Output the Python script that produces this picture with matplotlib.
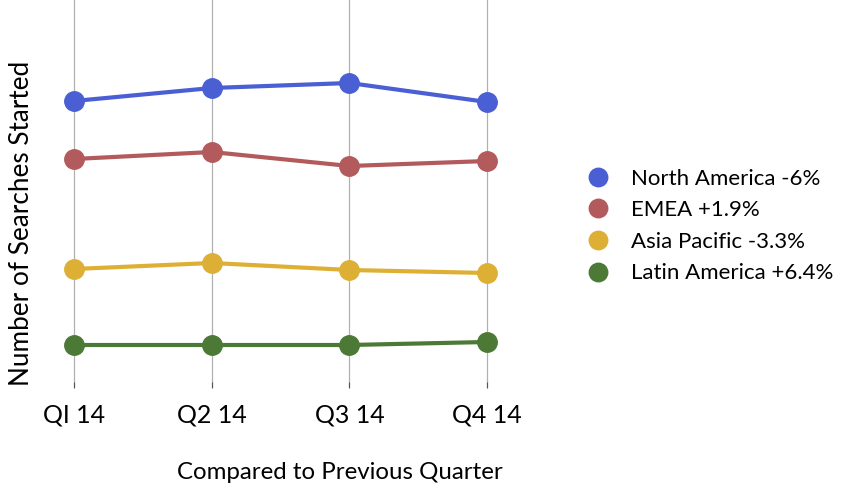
import matplotlib.pyplot as plt

# quarters and relative search counts (no y scale shown in the original)
quarters = ["QI 14", "Q2 14", "Q3 14", "Q4 14"]
north_america = [299, 312, 317, 298]
emea = [241, 248, 234, 239]
asia_pacific = [131, 137, 130, 127]
latin_america = [55, 55, 55, 58]

labels = ["North America -6%", "EMEA +1.9%", "Asia Pacific -3.3%", "Latin America +6.4%"]
colors = ["#4a5fd3", "#b35a5c", "#ddb035", "#4c7a36"]

plt.rcParams["font.family"] = ["Lato", "DejaVu Sans"]

fig = plt.figure(figsize=(8.53, 4.91), dpi=100)
ax = fig.add_axes([39.6 / 853, 103 / 491, 482 / 853, 388 / 491])

x = range(len(quarters))
for series, label, color in zip([north_america, emea, asia_pacific, latin_america], labels, colors):
    ax.plot(x, series, color=color, lw=3.0, marker="o", markersize=14,
            label=label, solid_capstyle="round", zorder=3)

ax.set_xlim(-0.25, 3.25)
ax.set_ylim(12, 400)
ax.set_xticks(list(x))
ax.set_xticklabels(quarters, fontsize=18)
ax.set_yticks([])
ax.tick_params(axis="x", length=4, direction="in", color="#555555", pad=11)
ax.grid(axis="x", color="#b0b0b0", lw=0.9)
for s in ax.spines.values():
    s.set_visible(False)

ax.set_xlabel("Compared to Previous Quarter", fontsize=17.3)
ax.xaxis.set_label_coords(0.623, -0.19)
ax.set_ylabel("Number of Searches Started", fontsize=18.8)
ax.yaxis.set_label_coords(-0.012, 0.425)

fig.legend(loc="center left", bbox_to_anchor=(565 / 853, 1 - 226 / 491), frameon=False,
           fontsize=16, handlelength=1.2, handletextpad=0.85, labelspacing=0.52,
           markerscale=0.95)
for h in fig.legends[0].get_lines():
    h.set_linewidth(0)

fig.savefig("out.png", dpi=100)
